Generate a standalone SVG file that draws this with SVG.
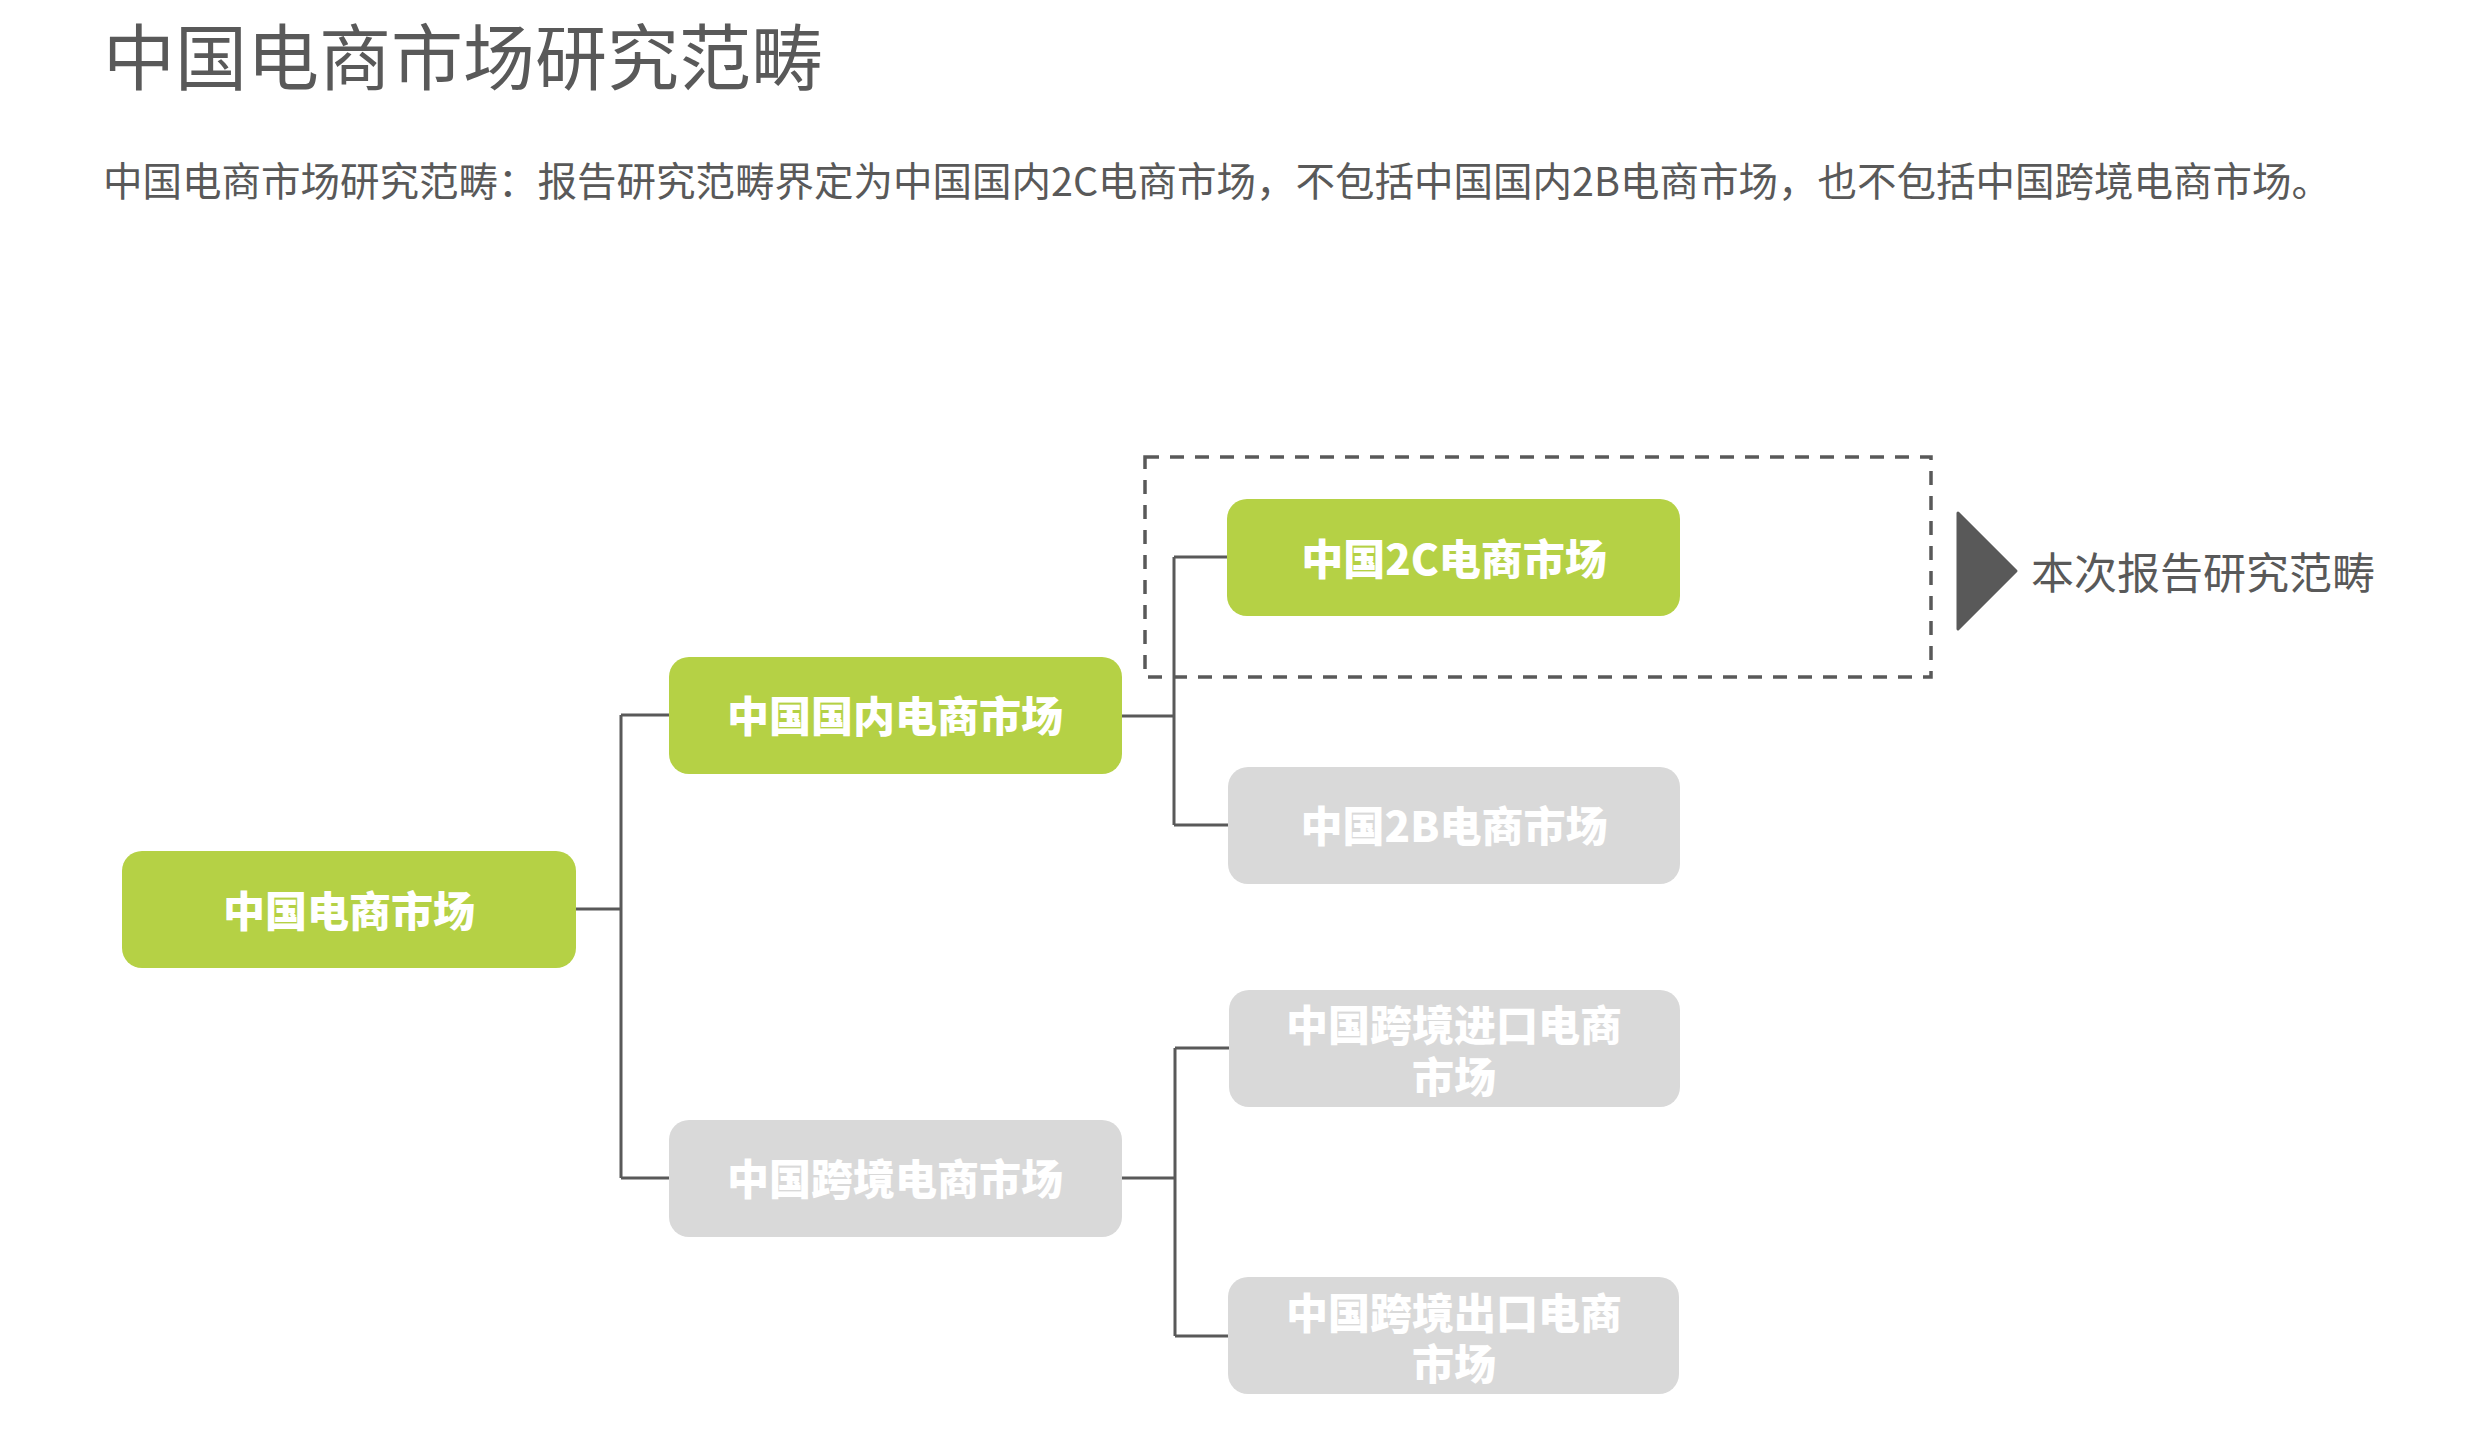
<svg xmlns="http://www.w3.org/2000/svg" width="2486" height="1436" viewBox="0 0 2486 1436">
<style>
text{font-family:"Noto Sans CJK SC","Microsoft YaHei",sans-serif}
.title{font-size:72px;fill:#595959}
.sub{font-size:39.5px;fill:#595959}
.lbl{font-size:43px;fill:#595959}
.nt{font-size:42px;font-weight:900;fill:#ffffff;text-anchor:middle}
.green{fill:#b5d145}
.gray{fill:#d9d9d9}
.conn{fill:none;stroke:#595959;stroke-width:3}
</style>
<rect width="2486" height="1436" fill="#ffffff"/>
<text class="title" x="103" y="84">中国电商市场研究范畴</text>
<text class="sub" x="103" y="196">中国电商市场研究范畴：报告研究范畴界定为中国国内2C电商市场，不包括中国国内2B电商市场，也不包括中国跨境电商市场。</text>

<g id="connectors">
<path class="conn" d="M576 909 H621 M621 715 V1178 M621 715 H669 M621 1178 H669"/>
<path class="conn" d="M1122 716 H1174" stroke-width="4.5"/>
<path class="conn" d="M1174 557 V825 M1174 557 H1227 M1174 825 H1228"/>
<path class="conn" d="M1122 1178 H1175 M1175 1048 V1336 M1175 1048 H1229 M1175 1336 H1228"/>
</g>

<g id="scope-box">
<rect x="1145" y="457" width="786" height="220" fill="none" stroke="#595959" stroke-width="3.5" stroke-dasharray="14 11"/>
</g>

<g id="n1"><rect class="green" x="122" y="851" width="454" height="117" rx="20"/><text class="nt" x="349" y="927">中国电商市场</text></g>
<g id="n2"><rect class="green" x="669" y="657" width="453" height="117" rx="20"/><text class="nt" x="895" y="732">中国国内电商市场</text></g>
<g id="n3"><rect class="gray" x="669" y="1120" width="453" height="117" rx="20"/><text class="nt" x="895" y="1195">中国跨境电商市场</text></g>
<g id="n2c"><rect class="green" x="1227" y="499" width="453" height="117" rx="20"/><text class="nt" x="1454" y="575">中国2C电商市场</text></g>
<g id="n2b"><rect class="gray" x="1228" y="767" width="452" height="117" rx="20"/><text class="nt" x="1454" y="842">中国2B电商市场</text></g>
<g id="nimport"><rect class="gray" x="1229" y="990" width="451" height="117" rx="20"/><text class="nt" x="1454" y="1041">中国跨境进口电商<tspan x="1454" y="1093">市场</tspan></text></g>
<g id="nexport"><rect class="gray" x="1228" y="1277" width="451" height="117" rx="20"/><text class="nt" x="1454" y="1329">中国跨境出口电商<tspan x="1454" y="1380">市场</tspan></text></g>

<g id="scope-label">
<path d="M1958 513 L2016 571 L1958 629 Z" fill="#595959" stroke="#595959" stroke-width="3" stroke-linejoin="round"/>
<text class="lbl" x="2031" y="589">本次报告研究范畴</text>
</g>
</svg>
